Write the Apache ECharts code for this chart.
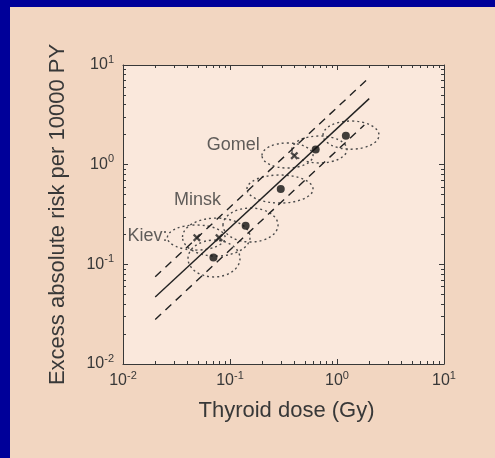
<!DOCTYPE html>
<html>
<head>
    <meta charset="UTF-8">
    <title>Excess absolute risk vs thyroid dose</title>
    <script src="https://cdn.jsdelivr.net/npm/echarts@6/dist/echarts.min.js"></script>
    <style>
        body { margin: 0; background: #f2d6c1; }
        #main { width: 495px; height: 458px; }
    </style>
</head>
<body>
<div id="main"></div>
<script type="text/javascript">
    // fitted line and the two dashed confidence lines: [dose, risk]
    var fitLine = [[0.02, 0.047], [2.0, 4.6]];
    var upperBand = [[0.02, 0.075], [1.9, 7.1]];
    var lowerBand = [[0.02, 0.028], [1.8, 2.5]];

    // dose groups (filled dots) and city estimates (crosses)
    var groupDots = [[0.070, 0.117], [0.140, 0.244], [0.298, 0.569], [0.632, 1.42], [1.21, 1.95]];
    var cityCrosses = [[0.049, 0.185], [0.079, 0.185], [0.399, 1.23]];
    var cityNames = ['Kiev:', 'Minsk', 'Gomel'];
    var cityLabelAt = [[0.0169, 0.192], [0.0497, 0.442], [0.107, 1.57]];

    // dotted uncertainty ellipses: [doseLow, doseHigh, riskLow, riskHigh]
    var ellipses = [
        [0.026, 0.090, 0.139, 0.248],
        [0.036, 0.154, 0.121, 0.291],
        [0.0405, 0.124, 0.0747, 0.175],
        [0.086, 0.281, 0.1675, 0.367],
        [0.144, 0.597, 0.412, 0.787],
        [0.199, 0.597, 0.925, 1.65],
        [0.379, 1.24, 1.04, 1.94],
        [0.740, 2.47, 1.43, 2.74]
    ];

    // axis ticks
    var decadeTicks = [0.01, 0.1, 1, 10];
    var minorTicks = [0.02, 0.03, 0.04, 0.05, 0.06, 0.07, 0.08, 0.09,
        0.2, 0.3, 0.4, 0.5, 0.6, 0.7, 0.8, 0.9,
        2, 3, 4, 5, 6, 7, 8, 9];

    var ink = '#383838';
    var font = 'Liberation Sans';
    var logMinor = minorTicks.map(function (v) { return Math.log10(v); });
    var logMajor = decadeTicks.map(function (v) { return Math.log10(v); });

    function tickLabel(v) {
        var e = Math.round(Math.log10(v));
        return '{b|10}{s|' + e + '}';
    }
    var labelRich = {
        b: { fontSize: 16, lineHeight: 22, color: ink, fontFamily: font },
        s: { fontSize: 11, lineHeight: 12, color: ink, fontFamily: font, verticalAlign: 'top' }
    };

    // extra axes in log10 space, only for the frame ticks
    function tickAxis(pos, values, len, line) {
        return {
            type: 'value', position: pos, min: -2, max: 1,
            axisLine: { show: line, onZero: false, lineStyle: { color: ink, width: 1 } },
            axisTick: { show: true, inside: true, length: len, customValues: values,
                lineStyle: { color: ink, width: 1 } },
            axisLabel: { show: false },
            splitLine: { show: false }
        };
    }

    var chartDom = document.getElementById('main');
    var myChart = echarts.init(chartDom);
    var option;

    option = {
        backgroundColor: '#f2d6c1',
        animation: false,
        graphic: [
            { type: 'rect', shape: { x: 0, y: 0, width: 10, height: 458 }, style: { fill: '#000099' }, z: 100 },
            { type: 'rect', shape: { x: 0, y: 0, width: 495, height: 7 }, style: { fill: '#000099' }, z: 100 }
        ],
        grid: {
            left: 123, top: 65, width: 321, height: 299,
            show: true, backgroundColor: '#fae8dc', borderWidth: 0
        },
        xAxis: [
            {
                type: 'log', logBase: 10, min: 0.01, max: 10, position: 'bottom',
                name: 'Thyroid dose (Gy)', nameLocation: 'middle', nameGap: 36,
                nameTextStyle: { fontSize: 22, color: ink, fontFamily: font, padding: [0, 0, 0, 6] },
                axisLine: { show: true, onZero: false, lineStyle: { color: ink, width: 1 } },
                axisTick: { show: true, inside: true, length: 5, lineStyle: { color: ink } },
                axisLabel: { margin: 6, formatter: tickLabel, rich: labelRich },
                splitLine: { show: false }
            },
            tickAxis('bottom', logMinor, 3, false),
            tickAxis('top', logMajor, 5, true),
            tickAxis('top', logMinor, 3, false)
        ],
        yAxis: [
            {
                type: 'log', logBase: 10, min: 0.01, max: 10, position: 'left',
                name: 'Excess absolute risk per 10000 PY', nameLocation: 'middle', nameGap: 54,
                nameTextStyle: { fontSize: 22, color: ink, fontFamily: font },
                axisLine: { show: true, onZero: false, lineStyle: { color: ink, width: 1 } },
                axisTick: { show: true, inside: true, length: 5, lineStyle: { color: ink } },
                axisLabel: { margin: 9, formatter: tickLabel, rich: labelRich },
                splitLine: { show: false }
            },
            tickAxis('left', logMinor, 3, false),
            tickAxis('right', logMajor, 5, true),
            tickAxis('right', logMinor, 3, false)
        ],
        series: [
            {
                type: 'custom',
                data: ellipses,
                encode: { x: [0, 1], y: [2, 3] },
                renderItem: function (params, api) {
                    var p1 = api.coord([api.value(0), api.value(2)]);
                    var p2 = api.coord([api.value(1), api.value(3)]);
                    return {
                        type: 'ellipse',
                        shape: {
                            cx: (p1[0] + p2[0]) / 2, cy: (p1[1] + p2[1]) / 2,
                            rx: Math.abs(p2[0] - p1[0]) / 2, ry: Math.abs(p2[1] - p1[1]) / 2
                        },
                        style: { fill: 'none', stroke: '#4a4a4a', lineWidth: 1.4, lineDash: [2, 3] }
                    };
                },
                z: 1
            },
            {
                type: 'line', data: fitLine, symbol: 'none',
                lineStyle: { color: '#222', width: 1.4 }, z: 2
            },
            {
                type: 'line', data: upperBand, symbol: 'none',
                lineStyle: { color: '#222', width: 1.4, type: [8, 6] }, z: 2
            },
            {
                type: 'line', data: lowerBand, symbol: 'none',
                lineStyle: { color: '#222', width: 1.4, type: [8, 6] }, z: 2
            },
            {
                type: 'scatter', data: groupDots, symbol: 'circle', symbolSize: 8,
                itemStyle: { color: '#111' }, z: 3
            },
            {
                type: 'scatter', data: cityCrosses, symbolSize: 8,
                symbol: 'path://M2,0L5,3L8,0L10,2L7,5L10,8L8,10L5,7L2,10L0,8L3,5L0,2Z',
                itemStyle: { color: '#222' }, z: 3
            },
            {
                type: 'scatter', symbolSize: 0, z: 4,
                data: cityLabelAt.map(function (p, i) { return { name: cityNames[i], value: p }; }),
                label: {
                    show: true, position: 'inside', formatter: '{b}',
                    fontSize: 18, color: '#383838', fontFamily: font
                }
            }
        ]
    };

    option && myChart.setOption(option);
</script>
</body>
</html>
